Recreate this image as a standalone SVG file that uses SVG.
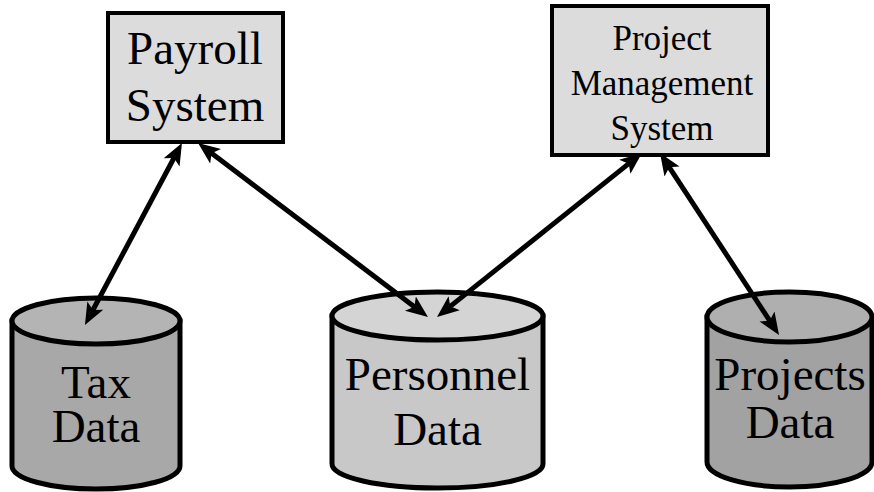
<svg xmlns="http://www.w3.org/2000/svg" width="874" height="492" viewBox="0 0 874 492">
  <style>
    .box { fill: #dcdcdc; stroke: #000; stroke-width: 4; }
    .cyl { stroke: #000; stroke-width: 5; }
    .lbl { font-family: "Liberation Serif", "Times New Roman", serif; fill: #000; text-anchor: middle; }
    .big { font-size: 47px; }
    .mid { font-size: 35px; }
    .link { fill: none; stroke: #000; stroke-width: 5; marker-start: url(#head); marker-end: url(#head); }
  </style>
  <defs>
    <marker id="head" markerUnits="userSpaceOnUse" markerWidth="30" markerHeight="24" viewBox="0 -12 30 24" refX="7" refY="0" orient="auto-start-reverse">
      <path d="M22,0 L0,-9 L5,0 L0,9 Z" fill="#000"/>
    </marker>
  </defs>

  <g id="payroll-system">
    <rect class="box" x="108" y="13" width="175" height="129"/>
    <text class="lbl big" x="195" y="64">Payroll</text>
    <text class="lbl big" x="195" y="121">System</text>
  </g>

  <g id="project-management-system">
    <rect class="box" x="552" y="6" width="216" height="149"/>
    <text class="lbl mid" x="662" y="50">Project</text>
    <text class="lbl mid" x="662" y="95">Management</text>
    <text class="lbl mid" x="662" y="140">System</text>
  </g>

  <g id="tax-data">
    <path class="cyl" fill="#a8a8a8" d="M12,321 L12,466 A84,23 0 0 0 180,466 L180,321 Z"/>
    <ellipse class="cyl" fill="#b4b4b4" cx="96" cy="321" rx="84" ry="23"/>
    <text class="lbl big" x="96" y="398">Tax</text>
    <text class="lbl big" x="96" y="442">Data</text>
  </g>

  <g id="personnel-data">
    <path class="cyl" fill="#c8c8c8" d="M332,316 L332,464 A105.5,24 0 0 0 543,464 L543,316 Z"/>
    <ellipse class="cyl" fill="#d4d4d4" cx="437.5" cy="316" rx="105.5" ry="24"/>
    <text class="lbl big" x="437.5" y="390">Personnel</text>
    <text class="lbl big" x="437.5" y="445">Data</text>
  </g>

  <g id="projects-data">
    <path class="cyl" fill="#a2a2a2" d="M707,317 L707,462 A82.5,25 0 0 0 872,462 L872,317 Z"/>
    <ellipse class="cyl" fill="#afafaf" cx="789.5" cy="317" rx="82.5" ry="25"/>
    <text class="lbl big" x="790" y="390">Projects</text>
    <text class="lbl big" x="790" y="438">Data</text>
  </g>

  <g id="connectors">
    <line class="link" x1="174.9" y1="156.2" x2="92.0" y2="311.8"/>
    <line class="link" x1="210.0" y1="152.0" x2="416.0" y2="307.9"/>
    <line class="link" x1="448.7" y1="307.6" x2="630.3" y2="162.4"/>
    <line class="link" x1="668.2" y1="165.6" x2="770.8" y2="322.4"/>
  </g>
</svg>
